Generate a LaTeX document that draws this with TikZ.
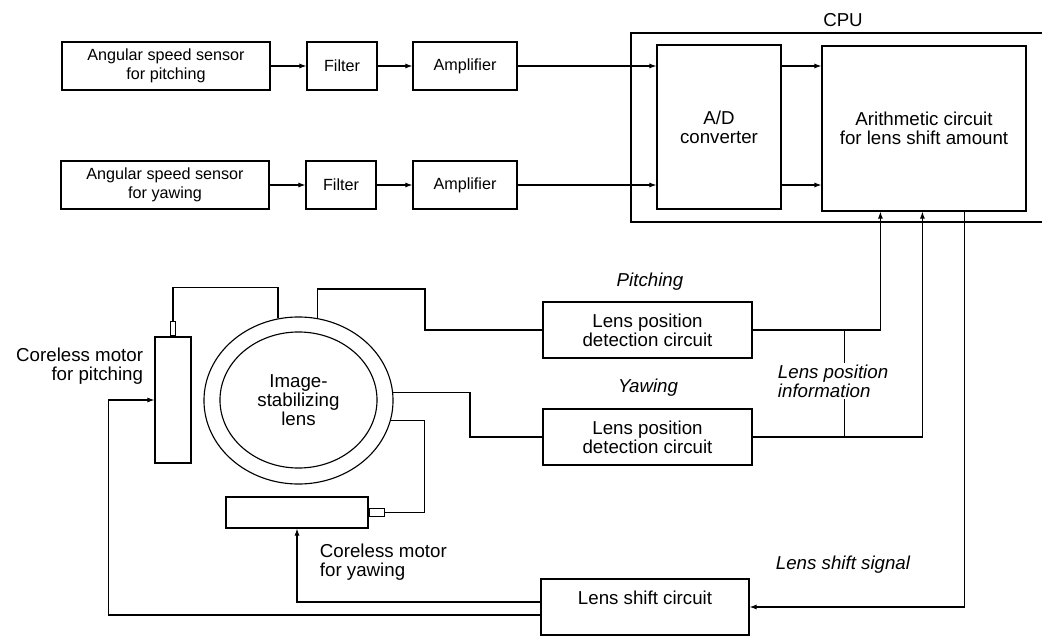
\documentclass[tikz,border=0pt]{standalone}
\usepackage{fontspec}
\setmainfont{Liberation Sans}
\usetikzlibrary{arrows.meta,positioning,calc,shapes.geometric}

\begin{document}
\begin{tikzpicture}[
  x=0.025cm, y=-0.025cm,
  font=\fontsize{13.3}{13.3}\selectfont,
  line width=0.8pt,
  blk/.style={draw, align=center, inner sep=2pt},
  topbox/.style={blk, minimum height=1.2cm, font=\fontsize{11.5}{13.3}\selectfont},
  detbox/.style={blk, minimum width=5.225cm, minimum height=1.4cm},
  part/.style={draw, inner sep=0pt},
  arr/.style={-{Latex[length=5pt,width=3.6pt]}},
  lbl/.style={align=center, inner sep=1pt},
  ilbl/.style={lbl, font=\fontsize{13.3}{13.3}\selectfont\itshape}
]
\useasboundingbox (0,0) rectangle (1042,637);

% sensor chains
\node[topbox, minimum width=5.2cm] (sensP) at (166,66) {Angular speed sensor\\for pitching};
\node[topbox, minimum width=1.75cm] (filtP) at (342,66) {Filter};
\node[topbox, minimum width=2.6cm] (ampP) at (465,66) {Amplifier};
\node[topbox, minimum width=5.2cm] (sensY) at (165,185) {Angular speed sensor\\for yawing};
\node[topbox, minimum width=1.75cm] (filtY) at (341,185) {Filter};
\node[topbox, minimum width=2.6cm] (ampY) at (465,185) {Amplifier};

% CPU
\draw (1042,33) -- (631,33) -- (631,222) -- (1042,222);
\node[lbl] (cpu) at (843,20) {CPU};
\node[blk, minimum width=3.1cm, minimum height=4.1cm] (ad) at (719,127) {A/D\\converter};
\node[blk, minimum width=5.1cm, minimum height=4.125cm] (arith) at (924,128.5) {Arithmetic circuit\\for lens shift amount};

\draw[arr] (sensP.east) -- (filtP.west);
\draw[arr] (filtP.east) -- (ampP.west);
\draw[arr] (ampP.east) -- (ampP.east -| ad.west);
\draw[arr] (ad.east |- ampP.east) -- (arith.west |- ampP.east);
\draw[arr] (sensY.east) -- (filtY.west);
\draw[arr] (filtY.east) -- (ampY.west);
\draw[arr] (ampY.east) -- (ampY.east -| ad.west);
\draw[arr] (ad.east |- ampY.east) -- (arith.west |- ampY.east);

% lens and motors
\node[part, minimum width=0.9cm, minimum height=3.15cm] (pm) at (173,400) {};
\node[part, minimum width=0.125cm, minimum height=0.35cm, anchor=south] (pmShaft) at (pm.north) {};
\node[draw, ellipse, minimum width=4.725cm, minimum height=4.175cm] (ring) at (298.5,400.5) {};
\node[draw, ellipse, minimum width=3.925cm, minimum height=3.4cm, align=center, inner sep=0pt] (lens) at (298.5,400) {Image-\\stabilizing\\lens};
\node[part, minimum width=3.55cm, minimum height=0.775cm] (ym) at (297,512.5) {};
\node[part, minimum width=0.375cm, minimum height=0.2cm, anchor=west] (ymShaft) at (ym.east) {};

\node[lbl, align=right, anchor=east] (pmLbl) at (145,366) {Coreless motor\\for pitching};
\node[lbl, align=left, anchor=west] (ymLbl) at (318,562) {Coreless motor\\for yawing};

% detection and shift circuits
\node[detbox] (detP) at (647.5,330) {Lens position\\detection circuit};
\node[detbox] (detY) at (647.5,437) {Lens position\\detection circuit};
\node[blk, minimum width=5.2cm, minimum height=1.4cm] (shift) at (645,607) {Lens shift circuit\\\phantom{L}};
\node[ilbl] (pitchLbl) at (650,282) {Pitching};
\node[ilbl] (yawLbl) at (648,388) {Yawing};
\node[ilbl] (shiftLbl) at (843,565) {Lens shift signal};

\draw (pmShaft.north) -- ++(0,-34) -| (ring.104);
\draw (ring.77) |- (425,289) |- (detP.west);
\draw (ring.5) -| (470,437) -- (detY.west);
\draw (ring.-12) -| ($(ymShaft.east)+(40,0)$) -- (ymShaft.east);

\draw[arr] (detP.east) -| ($(arith.south west)+(59,0)$);
\draw[arr] (detY.east) -| ($(arith.south west)+(101,0)$);
\draw ($(detP.east)+(92,0)$) -- ($(detY.east)+(92,0)$);
\node[ilbl, align=left, fill=white, anchor=west] (posLbl) at (776,381) {Lens position\\information};

\draw[arr] ($(arith.south west)+(143,0)$) |- (shift.east);
\draw[arr] ($(shift.west)+(0,-5)$) -| (ym.south);
\draw[arr] ($(shift.west)+(0,8)$) -| ($(pm.west)+(-46,0)$) -- (pm.west);
\end{tikzpicture}
\end{document}
